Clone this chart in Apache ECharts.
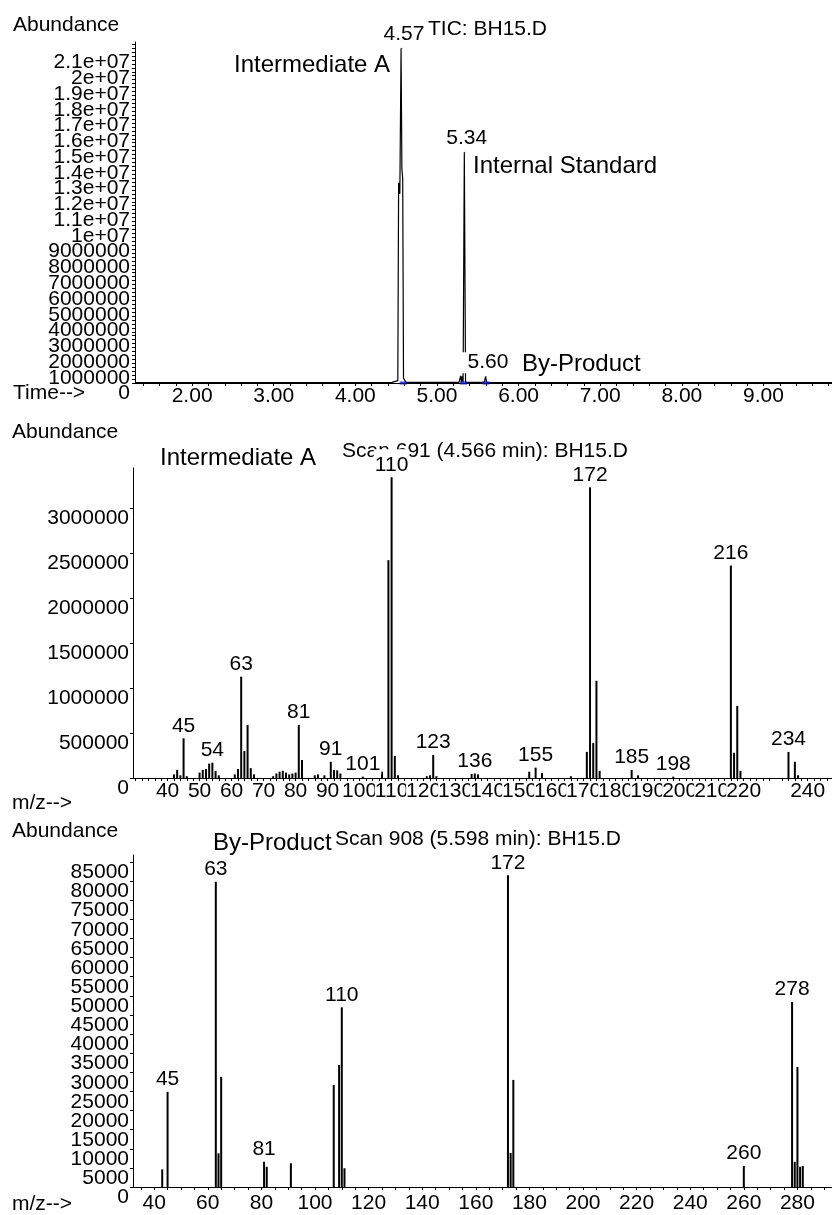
<!DOCTYPE html>
<html><head><meta charset="utf-8">
<script src="https://cdn.jsdelivr.net/npm/echarts@6/dist/echarts.min.js"></script>
<style>html,body{margin:0;padding:0;background:#fff}#c{width:832px;height:1215px}</style>
</head><body><div id="c"></div>
<script>
// ---------- TIC (total ion chromatogram) ----------
const ticTime  = [1.30, 4.45, 4.52, 4.53, 4.545, 4.56, 4.57, 4.58, 4.59, 4.62, 5.27, 5.29, 5.30, 5.31, 5.32, 5.335, 5.35, 5.40, 5.58, 5.595, 5.61, 9.84];
const ticAbund = [30000, 40000, 150000, 12700000, 12000000, 21250000, 13600000, 13000000, 300000, 40000, 40000, 450000, 60000, 420000, 60000, 14650000, 60000, 40000, 40000, 400000, 40000, 30000];
const ticPeakRT    = [4.57, 5.34, 5.60];
const ticPeakAbund = [21250000, 14650000, 400000];
const ticIntegMarks = [4.585, 5.325, 5.598];
const timeLabels = [2, 3, 4, 5, 6, 7, 8, 9];
const ticYLabels = [0, 1000000, 2000000, 3000000, 4000000, 5000000, 6000000, 7000000, 8000000, 9000000, 10000000,
  11000000, 12000000, 13000000, 14000000, 15000000, 16000000, 17000000, 18000000, 19000000, 20000000, 21000000];

// ---------- Scan 691 (Intermediate A) ----------
const scanAMz    = [42, 43, 44, 45, 46, 50, 51, 52, 53, 54, 55, 56, 61, 62, 63, 64, 65, 66, 67, 73, 74, 75, 76, 77, 78, 79, 80, 81, 82, 86, 87, 89, 91, 92, 93, 94, 101, 107, 109, 110, 111, 112, 121, 122, 123, 124, 135, 136, 137, 153, 155, 157, 166, 171, 172, 173, 174, 175, 185, 187, 198, 216, 217, 218, 219, 234, 236, 237];
const scanAAbund = [40000, 90000, 30000, 441000, 20000, 60000, 90000, 100000, 160000, 170000, 80000, 30000, 40000, 100000, 1126000, 300000, 590000, 110000, 40000, 20000, 50000, 70000, 80000, 60000, 40000, 50000, 60000, 590000, 200000, 30000, 40000, 30000, 180000, 90000, 85000, 50000, 15000, 70000, 2420000, 3340000, 245000, 30000, 20000, 30000, 255000, 20000, 45000, 50000, 40000, 70000, 115000, 55000, 20000, 290000, 3230000, 390000, 1080000, 80000, 90000, 30000, 15000, 2360000, 280000, 800000, 80000, 290000, 180000, 30000];
const scanALabeled = [45, 54, 63, 81, 91, 101, 110, 123, 136, 155, 172, 185, 198, 216, 234];
const mzALabels = [40, 50, 60, 70, 80, 90, 100, 110, 120, 130, 140, 150, 160, 170, 180, 190, 200, 210, 220, 230, 240];
const scanAYLabels = [0, 500000, 1000000, 1500000, 2000000, 2500000, 3000000];

// ---------- Scan 908 (By-Product) ----------
const scanBMz    = [43, 45, 63, 64, 65, 81, 82, 91, 107, 109, 110, 111, 172, 173, 174, 260, 278, 279, 280, 281, 282];
const scanBAbund = [4600, 24900, 79800, 8800, 28800, 6600, 5300, 6200, 26700, 31900, 47000, 4900, 81500, 8900, 28000, 5500, 48400, 6600, 31400, 5300, 5500];
const scanBLabeled = [45, 63, 81, 110, 172, 260, 278];
const mzBLabels = [40, 60, 80, 100, 120, 140, 160, 180, 200, 220, 240, 260, 280];
const scanBYLabels = [0, 5000, 10000, 15000, 20000, 25000, 30000, 35000, 40000, 45000, 50000, 55000, 60000, 65000, 70000, 75000, 80000, 85000];

// tick positions (axis decoration)
const timeTicks = []; for (let t = 14; t <= 98; t += 2) timeTicks.push(t / 10);
const mzATicks = [];  for (let m = 30; m <= 246; m += 2) mzATicks.push(m);
const mzBTicks = [];  for (let m = 35; m <= 290; m += 5) mzBTicks.push(m);
const ticYTicks = []; for (let k = 0; k <= 86; k++) ticYTicks.push(k * 250000);

const FONT = '"Liberation Sans", Arial, sans-serif';
const NAMEFONT = '24px ' + FONT;
const TXTFONT = '21px ' + FONT;
const black = '#000';

function ticFmt(v) {
  if (v >= 1e7) return (Math.round(v / 1e5) / 100) + 'e+07';
  return String(Math.round(v));
}
const even = arr => arr.filter((v, i) => i % 2 === 0);
const odd  = arr => arr.filter((v, i) => i % 2 === 1);

const lbl = {fontFamily: FONT, fontSize: 21, color: black};

function xAxisOf(grid, min, max, tickVals, labelVals, fmt, margin, bg) {
  return {
    gridIndex: grid, type: 'value', min: min, max: max,
    axisLine: {show: true, onZero: false, lineStyle: {color: black, width: 1}},
    splitLine: {show: false},
    axisTick: {show: true, customValues: tickVals, length: 3, lineStyle: {color: black}},
    axisLabel: Object.assign({customValues: labelVals, formatter: fmt, margin: margin,
      showMinLabel: true, showMaxLabel: true, hideOverlap: false,
      backgroundColor: bg ? '#fff' : 'transparent', padding: [0, 0]}, lbl)
  };
}
// main: draws axis line + ticks + a share of labels; alt: extra labels only (same scale, same place)
function yAxisOf(grid, max, labelVals, tickVals, fmt, margin, alt) {
  return {
    gridIndex: grid, type: 'value', min: 0, max: max, position: 'left', offset: 0,
    axisLine: {show: !alt, onZero: false, lineStyle: {color: black, width: 1}},
    splitLine: {show: false},
    axisTick: {show: !alt, customValues: tickVals, length: 3, lineStyle: {color: black}},
    axisLabel: Object.assign({customValues: labelVals, formatter: fmt, margin: margin, verticalAlign: 'top',
      showMinLabel: true, showMaxLabel: true, hideOverlap: false}, lbl)
  };
}

function specData(mz, ab, labeled) {
  return mz.map((m, i) => ({value: [m, ab[i]], label: {show: labeled.indexOf(m) >= 0}}));
}
const peakLabel = {
  show: false, position: 'top', distance: 2, formatter: p => String(p.value[0]),
  fontFamily: FONT, fontSize: 21, color: black, backgroundColor: '#fff', padding: [5, 1, 0, 1]
};

function txt(text, x, y, font) {
  return {type: 'text', x: x, y: y, z: 0,
    style: {text: text, font: font || TXTFONT, fill: black, align: 'left', verticalAlign: 'middle'}};
}

const option = {
  animation: false,
  backgroundColor: '#fff',
  grid: [
    {left: 135, top: 42, right: 0, height: 341},
    {left: 133, top: 468, right: 0, height: 310},
    {left: 133, top: 855, right: 0, height: 332}
  ],
  xAxis: [
    xAxisOf(0, 1.30, 9.84, timeTicks, timeLabels, v => v.toFixed(2), 3, false),
    xAxisOf(1, 29.2, 247.6, mzATicks, mzALabels, v => String(v), 3, true),
    xAxisOf(2, 32.1, 292.9, mzBTicks, mzBLabels, v => String(v), 6, false)
  ],
  yAxis: [
    yAxisOf(0, 21640000, even(ticYLabels), ticYTicks, ticFmt, 5, false),
    yAxisOf(0, 21640000, odd(ticYLabels), ticYTicks, ticFmt, 5, true),
    yAxisOf(1, 3444000, scanAYLabels, scanAYLabels, v => String(v), 4, false),
    yAxisOf(2, 86820, even(scanBYLabels), scanBYLabels, v => String(v), 4, false),
    yAxisOf(2, 86820, odd(scanBYLabels), scanBYLabels, v => String(v), 4, true)
  ],
  graphic: [
    txt('Abundance', 13, 25),
    txt('TIC: BH15.D', 428, 29),
    txt('Intermediate A', 234, 65, NAMEFONT),
    txt('Internal Standard', 473, 166, NAMEFONT),
    txt('By-Product', 522, 364, NAMEFONT),
    txt('Time-->', 13, 393),
    txt('Abundance', 12, 432),
    txt('Intermediate A', 160, 458, NAMEFONT),
    txt('Scan 691 (4.566 min): BH15.D', 342, 451),
    txt('m/z-->', 12, 803),
    txt('Abundance', 12, 831),
    txt('By-Product', 213, 843, NAMEFONT),
    txt('Scan 908 (5.598 min): BH15.D', 335, 839),
    txt('m/z-->', 12, 1204)
  ],
  series: [
    {
      type: 'line', xAxisIndex: 0, yAxisIndex: 0, z: 2,
      data: ticTime.map((t, i) => [t, ticAbund[i]]),
      showSymbol: false, symbol: 'none',
      lineStyle: {color: black, width: 1.2}
    },
    {
      type: 'scatter', xAxisIndex: 0, yAxisIndex: 0, z: 3,
      data: ticIntegMarks.map(t => [t, 0]),
      symbol: 'rect', symbolSize: [7, 3],
      itemStyle: {color: '#1010c8'}
    },
    {
      type: 'scatter', xAxisIndex: 0, yAxisIndex: 0, z: 5,
      data: ticPeakRT.map((t, i) => [t, ticPeakAbund[i]]),
      symbolSize: 1, itemStyle: {color: '#000'},
      emphasis: {disabled: true},
      label: {show: true, position: 'top', distance: 3, formatter: p => p.value[0].toFixed(2),
        fontFamily: FONT, fontSize: 21, color: '#000', opacity: 1,
        backgroundColor: '#fff', padding: [0, 2, 0, 6]}
    },
    {
      type: 'bar', xAxisIndex: 1, yAxisIndex: 2, z: 4,
      data: specData(scanAMz, scanAAbund, scanALabeled),
      barWidth: 2, itemStyle: {color: black},
      label: peakLabel
    },
    {
      type: 'bar', xAxisIndex: 2, yAxisIndex: 3, z: 4,
      data: specData(scanBMz, scanBAbund, scanBLabeled),
      barWidth: 2, itemStyle: {color: black},
      label: peakLabel
    }
  ]
};

const chart = echarts.init(document.getElementById('c'));
chart.setOption(option);
</script>
</body></html>
